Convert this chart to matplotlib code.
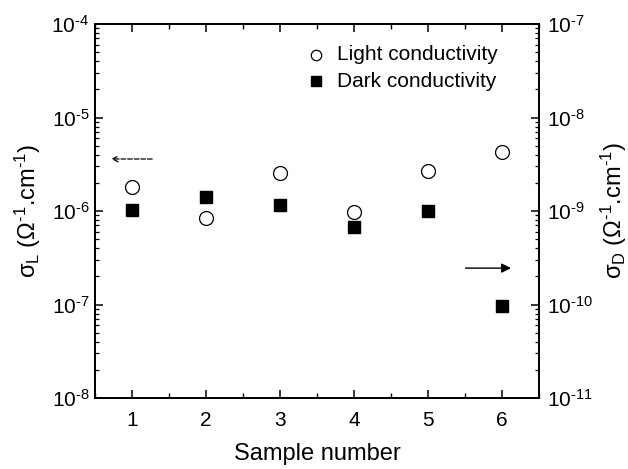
import matplotlib
matplotlib.use('Agg')
import matplotlib.pyplot as plt
from matplotlib.ticker import LogLocator, NullFormatter, MultipleLocator, FuncFormatter
import numpy as np

plt.rcParams['font.family'] = ['Liberation Sans', 'DejaVu Sans']
plt.rcParams['mathtext.fontset'] = 'custom'
plt.rcParams['mathtext.rm'] = 'Liberation Sans'
plt.rcParams['mathtext.it'] = 'Liberation Sans'

samples = [1, 2, 3, 4, 5, 6]
light_cond = [1.81e-6, 8.4e-7, 2.55e-6, 9.75e-7, 2.68e-6, 4.27e-6]
dark_cond = [1.02e-9, 1.41e-9, 1.16e-9, 6.8e-10, 1.0e-9, 9.6e-11]

HY = '\u2010'  # plain hyphen, like the original labels


def pow10(v, pos):
    e = int(round(np.log10(v)))
    return '10$^{' + (HY + str(-e) if e < 0 else str(e)) + '}$'


fig = plt.figure(figsize=(6.28, 4.69), dpi=100)
ax = fig.add_axes([95 / 628, 1 - 398 / 469, 444 / 628, 374 / 469])
ax2 = ax.twinx()

ax.scatter(samples, light_cond, marker='o', s=100, facecolors='white',
           edgecolors='black', linewidths=0.9, zorder=3, label='Light conductivity')
ax2.scatter(samples, dark_cond, marker='s', s=85, color='black', zorder=3,
            label='Dark conductivity')

ax.set_xlim(0.5, 6.5)
ax.set_yscale('log')
ax.set_ylim(1e-8, 1e-4)
ax2.set_yscale('log')
ax2.set_ylim(1e-11, 1e-7)

ax.xaxis.set_major_locator(MultipleLocator(1))
ax.xaxis.set_minor_locator(MultipleLocator(0.5))
for a in (ax, ax2):
    a.yaxis.set_major_locator(LogLocator(base=10, numticks=10))
    a.yaxis.set_minor_locator(LogLocator(base=10, subs=range(2, 10), numticks=10))
    a.yaxis.set_major_formatter(FuncFormatter(pow10))
    a.yaxis.set_minor_formatter(NullFormatter())
    for s in a.spines.values():
        s.set_linewidth(1.3)

ax.tick_params(axis='x', which='both', direction='in', top=True, labelsize=15, pad=9)
ax.tick_params(axis='x', which='major', length=6, width=1.1)
ax.tick_params(axis='x', which='minor', length=3.5, width=1.0)
ax.tick_params(axis='y', which='major', direction='in', length=6, width=1.1, labelsize=15, pad=4)
ax.tick_params(axis='y', which='minor', direction='in', length=3, width=0.9)
ax2.tick_params(axis='y', which='major', direction='in', length=6, width=1.1, labelsize=15, pad=6)
ax2.tick_params(axis='y', which='minor', direction='in', length=3, width=0.9)

ax.set_xlabel('Sample number', fontsize=17, labelpad=10)
ax.set_ylabel(r'$\sigma_{\rm L}$ ($\Omega^{' + HY + r'1}$.cm$^{' + HY + '1}$)',
              fontsize=17, labelpad=6)
ax2.set_ylabel(r'$\sigma_{\rm D}$ ($\Omega^{' + HY + r'1}$.cm$^{' + HY + '1}$)',
               fontsize=17, labelpad=4)

# direction arrows
ax.annotate('', xy=(0.68, 3.6e-6), xytext=(1.31, 3.6e-6),
            arrowprops=dict(arrowstyle='->', linestyle='--', lw=0.9, color='black'))
ax.annotate('', xy=(6.16, 2.45e-7), xytext=(5.47, 2.45e-7),
            arrowprops=dict(arrowstyle='-|>', lw=1.0, color='black', mutation_scale=14))

h1, l1 = ax.get_legend_handles_labels()
h2, l2 = ax2.get_legend_handles_labels()
leg = ax.legend(h1 + h2, l1 + l2, loc='upper right', frameon=False, fontsize=15,
                markerscale=0.75, handletextpad=0.3, handlelength=1.4,
                labelspacing=0.35, borderaxespad=0.3, bbox_to_anchor=(0.94, 0.982))

fig.savefig('out.png', dpi=100)
